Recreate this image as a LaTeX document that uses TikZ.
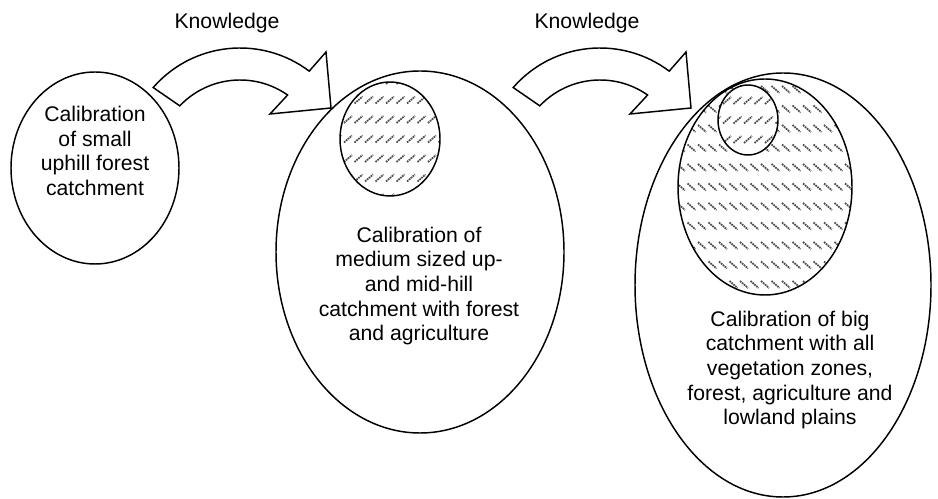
\documentclass[tikz,border=0pt]{standalone}
\usepackage{fontspec}
\setmainfont{Liberation Sans}
\usetikzlibrary{shapes.geometric}
\tikzset{
    zone/.style={
        ellipse,
        draw,
        fill=white,
        line width=1.1pt, % 边框加粗
        inner sep=0
    },
    txt/.style={
        align=center,
        inner sep=0,
        font=\fontsize{15.9}{18.4}\selectfont
    },
    hatchstroke/.style={
        draw=black!70,
        line width=1.3pt,
        dash pattern=on 1.3pt off 0.6pt
    },
    hatchup/.style={ % “/” 斜纹
        path picture={
            \begin{scope}[shift={(path picture bounding box.center)}]
            \foreach \row in {-6,...,6}
                \foreach \col in {-9,...,9}
                    \draw[hatchstroke] (\col*10.5-4,\row*19.5-3.5) -- ++(8,7);
            \end{scope}
        }
    },
    hatchdown/.style={ % “\” 斜纹
        path picture={
            \begin{scope}[shift={(path picture bounding box.center)}]
            \foreach \row in {-6,...,6}
                \foreach \col in {-9,...,9}
                    \draw[hatchstroke] (\col*10.5-4,\row*19.5+3.5) -- ++(8,-7);
            \end{scope}
        }
    },
    knowarrow/.pic={
        \draw[line width=1.1pt, fill=white]
            (139:115) arc[start angle=139, end angle=53, radius=115]
            -- (86,111) -- (91,55) -- (30,49)
            -- (55:83) arc[start angle=55, end angle=136.5, radius=83]
            -- cycle;
    }
}

\begin{document}
\begin{tikzpicture}[x=0.75pt, y=0.75pt]
    \useasboundingbox (0,0) rectangle (938,499);
    % 小流域
    \node[zone, minimum width=126pt, minimum height=144pt] (small) at (95,331) {};
    \node[txt] (smalltxt) at (95,348) {Calibration\\of small\\uphill forest\\catchment};
    % 中流域
    \node[zone, minimum width=216pt, minimum height=271.5pt] (medium) at (420,247) {};
    \node[zone, hatchup, minimum width=75pt, minimum height=85.5pt] (mediumforest) at (390,360) {};
    \node[txt] (mediumtxt) at (419,213) {Calibration of\\medium sized up-\\and mid-hill\\catchment with forest\\and agriculture};
    % 大流域
    \node[zone, minimum width=222pt, minimum height=318pt] (big) at (783,214) {};
    \node[zone, hatchdown, minimum width=130.5pt, minimum height=162pt] (bigveg) at (765,312) {};
    \node[zone, hatchup, minimum width=45pt, minimum height=52.5pt] (bigforest) at (748,379) {};
    \node[txt] (bigtxt) at (790,129) {Calibration of big\\catchment with all\\vegetation zones,\\forest, agriculture and\\lowland plains};
    % 知识传递
    \pic at (240,336) {knowarrow};
    \pic at (600,336) {knowarrow};
    \node[txt] (know1) at (227,476) {Knowledge};
    \node[txt] (know2) at (587,476) {Knowledge};
\end{tikzpicture}
\end{document}
